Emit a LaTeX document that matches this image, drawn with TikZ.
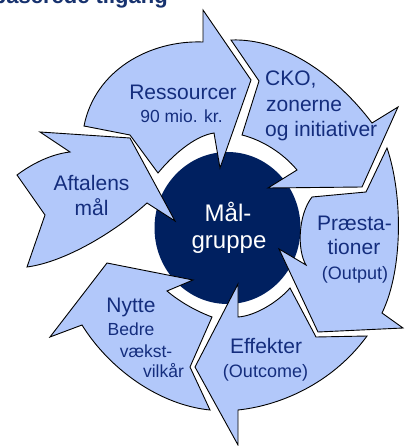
\documentclass[tikz,border=0pt]{standalone}
\usepackage{fontspec}
\setmainfont{Liberation Sans}
\definecolor{pfill}{RGB}{178,200,250}
\definecolor{navy}{RGB}{0,32,96}
\definecolor{txt}{RGB}{20,45,125}
\definecolor{ttl}{RGB}{23,50,110}
\begin{document}
\begin{tikzpicture}[x=1pt,y=-1pt,
  piece/.style={fill=pfill,draw=black,line width=0.9pt,line join=miter},
  lbl/.style={text=txt,inner sep=0pt,anchor=base,font=\fontsize{21}{25}\selectfont},
  sml/.style={text=txt,inner sep=0pt,anchor=base,font=\fontsize{17.5}{21}\selectfont},
  ctr/.style={text=white,inner sep=0pt,anchor=base,font=\fontsize{24}{28}\selectfont}]
\useasboundingbox (0,0) rectangle (404,446);
\clip (0,0) rectangle (404,446);
\fill[white] (0,0) rectangle (404,446);
\node[anchor=base east,inner sep=0pt,text=ttl,font=\bfseries\fontsize{22}{26}\selectfont] (title) at (168,3.5) {baserede tilgang};
\fill[navy] (227.5,228) ellipse [x radius=73, y radius=76];
% Ressourcer
\draw[piece] (84,126) .. controls (95,70) and (150,40) .. (203,42) -- (203,10) -- (251,80) -- (220,168) -- (214,133) .. controls (194,136) and (172,156) .. (158,173) -- (130,135) -- cycle;
% CKO
\draw[piece] (231,40) .. controls (286,38) and (339,79) .. (372,123) -- (398,107) -- (362,187) -- (268,188) -- (297,170) .. controls (283,153) and (262,140) .. (242,135) -- (259,81) -- cycle;
% Praestationer
\draw[piece] (387,148) .. controls (403,195) and (403,270) .. (382,313) -- (403,328) -- (318,332) -- (279,249) -- (306,265) .. controls (297,250) and (298,215) .. (312,197) -- (366,192) -- cycle;
% Effekter
\draw[piece] (367,336) .. controls (335,380) and (285,405) .. (238,410) -- (238,445) -- (195,367) -- (238,284) -- (238,317) .. controls (255,316) and (278,302) .. (290,288) -- (316,337) -- cycle;
% Nytte
\draw[piece] (210,410) .. controls (160,405) and (110,370) .. (82,325) -- (50,337) -- (107,263) -- (193,280) -- (167,291) .. controls (180,302) and (196,311) .. (212,317) -- (190,367) -- cycle;
% Aftalens
\draw[piece] (17,175) .. controls (33,163) and (52,154) .. (70,152) -- (40,132) -- (130,138) -- (175,221) -- (147,203) .. controls (115,232) and (65,262) .. (27,267) -- (45,215) -- cycle;
% labels
\node[lbl] (res) at (183,100) {Ressourcer};
\node[sml] (mio) at (181.5,123) {90 mio. kr.};
\node[lbl,anchor=base west] (cko1) at (265,86) {CKO,};
\node[lbl,anchor=base west] (cko2) at (266,112) {zonerne};
\node[lbl,anchor=base west] (cko3) at (265,137) {og initiativer};
\node[lbl] (aft1) at (91.5,190) {Aftalens};
\node[lbl] (aft2) at (91.5,215) {mål};
\node[ctr] (mg1) at (228,221) {Mål-};
\node[ctr] (mg2) at (229,248) {gruppe};
\node[lbl] (pr1) at (354.5,230) {Præsta-};
\node[lbl] (pr2) at (354,254) {tioner};
\node[sml,font=\fontsize{18}{21}\selectfont] (pr3) at (355,279) {(Output)};
\node[lbl] (ef1) at (266,353) {Effekter};
\node[sml,font=\fontsize{18}{21}\selectfont] (ef2) at (265.5,377) {(Outcome)};
\node[lbl] (ny1) at (131,312) {Nytte};
\node[sml] (ny2) at (131,335) {Bedre};
\node[sml] (ny3) at (146,357) {vækst-};
\node[sml] (ny4) at (163.5,377) {vilkår};
\end{tikzpicture}
\end{document}
